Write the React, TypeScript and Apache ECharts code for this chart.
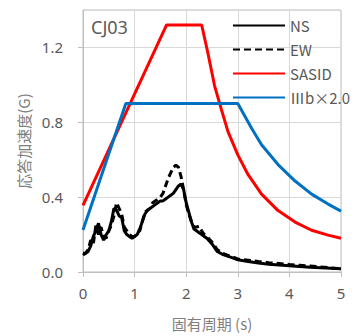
import React, { useEffect, useRef } from "react";
import * as echarts from "echarts";

const nsPeriods = [0, 0.05, 0.1, 0.15, 0.2, 0.25, 0.3, 0.35, 0.4, 0.45, 0.5, 0.55, 0.6, 0.65, 0.7, 0.75, 0.8, 0.85, 0.9, 0.95, 1.0, 1.05, 1.1, 1.15, 1.2, 1.25, 1.3, 1.35, 1.4, 1.45, 1.5, 1.55, 1.6, 1.65, 1.7, 1.75, 1.8, 1.85, 1.9, 1.95, 2.0, 2.05, 2.1, 2.15, 2.2, 2.25, 2.3, 2.35, 2.4, 2.5, 2.6, 2.7, 2.8, 2.9, 3.0, 3.2, 3.4, 3.6, 3.8, 4.0, 4.2, 4.4, 4.6, 4.8, 5.0];
const nsValues = [0.09, 0.1, 0.11, 0.14, 0.19, 0.22, 0.26, 0.2, 0.17, 0.2, 0.22, 0.27, 0.34, 0.33, 0.3, 0.29, 0.22, 0.2, 0.19, 0.18, 0.19, 0.2, 0.23, 0.27, 0.31, 0.33, 0.34, 0.35, 0.36, 0.37, 0.38, 0.38, 0.39, 0.4, 0.41, 0.42, 0.44, 0.46, 0.47, 0.44, 0.37, 0.32, 0.27, 0.23, 0.22, 0.21, 0.2, 0.19, 0.18, 0.15, 0.11, 0.095, 0.085, 0.075, 0.065, 0.056, 0.048, 0.042, 0.037, 0.033, 0.029, 0.026, 0.023, 0.02, 0.017];

const ewPeriods = nsPeriods;
const ewValues = [0.1, 0.1, 0.12, 0.17, 0.15, 0.25, 0.2, 0.24, 0.19, 0.18, 0.22, 0.25, 0.3, 0.37, 0.34, 0.31, 0.24, 0.22, 0.2, 0.19, 0.19, 0.21, 0.22, 0.27, 0.32, 0.33, 0.34, 0.37, 0.38, 0.39, 0.4, 0.42, 0.46, 0.5, 0.53, 0.56, 0.57, 0.56, 0.51, 0.44, 0.36, 0.31, 0.27, 0.24, 0.24, 0.245, 0.22, 0.2, 0.19, 0.16, 0.12, 0.1, 0.09, 0.08, 0.07, 0.063, 0.056, 0.05, 0.045, 0.04, 0.036, 0.032, 0.027, 0.022, 0.018];

const sasidPeriods = [0, 1.62, 2.3, 2.42, 2.55, 2.68, 2.81, 3.0, 3.2, 3.46, 3.78, 4.11, 4.43, 4.75, 5.0];
const sasidValues = [0.356, 1.32, 1.32, 1.17, 0.995, 0.87, 0.75, 0.626, 0.52, 0.416, 0.328, 0.267, 0.223, 0.197, 0.18];

const iiibPeriods = [0, 0.83, 3.0, 3.27, 3.46, 3.78, 4.11, 4.43, 4.75, 5.0];
const iiibValues = [0.224, 0.9, 0.9, 0.767, 0.68, 0.574, 0.486, 0.416, 0.363, 0.325];

const seriesNames = ["NS", "EW", "SASID", "Ⅲb×2.0"];
const chartLabel = "CJ03";
const xTitle = "固有周期 (s)";
const yTitle = "応答加速度(G)";

const zip = (xs: number[], ys: number[]) => xs.map((x, i) => [x, ys[i]]);

export default function App() {
  const ref = useRef<HTMLDivElement>(null);
  useEffect(() => {
    if (!ref.current) return;
    const chart = echarts.init(ref.current, null, { renderer: "svg" });
    const gray = "#595959";
    const font = "'Noto Sans', 'Noto Sans CJK JP', sans-serif";
    chart.setOption({
      animation: false,
      textStyle: { fontFamily: font },
      grid: {
        left: 83,
        right: 14,
        top: 10,
        bottom: 60,
        show: true,
        borderColor: "#bfbfbf",
        borderWidth: 1,
      },
      graphic: [
        {
          type: "text",
          left: 91,
          top: 18,
          style: { text: chartLabel, fontSize: 18, fill: gray, fontFamily: font },
        },
      ],
      legend: {
        orient: "vertical",
        left: 227,
        top: 13,
        itemWidth: 52,
        itemHeight: 14,
        itemGap: 9,
        itemStyle: { opacity: 0 },
        textStyle: { color: gray, fontSize: 15, padding: [0, 0, 0, 0], fontFamily: "'Noto Sans CJK JP', sans-serif" },
        data: seriesNames,
        backgroundColor: "rgba(255,255,255,0)",
      },
      xAxis: {
        type: "value",
        min: 0,
        max: 5,
        interval: 1,
        name: xTitle,
        nameLocation: "middle",
        nameGap: 44,
        nameTextStyle: { color: "#7f7f7f", fontSize: 15, fontFamily: "'Noto Sans CJK JP', sans-serif" },
        axisLine: { show: true, lineStyle: { color: "#bfbfbf" } },
        axisTick: { show: true, length: 5, lineStyle: { color: "#bfbfbf" } },
        axisLabel: { color: gray, fontSize: 15, margin: 13 },
        splitLine: { show: true, lineStyle: { color: "#d9d9d9" } },
      },
      yAxis: {
        type: "value",
        min: 0,
        max: 1.4,
        interval: 0.4,
        name: yTitle,
        nameLocation: "middle",
        nameGap: 49,
        nameTextStyle: { color: "#7f7f7f", fontSize: 15, fontFamily: "'Noto Sans CJK JP', sans-serif" },
        axisLine: { show: true, lineStyle: { color: "#bfbfbf" } },
        axisTick: { show: true, length: 5, lineStyle: { color: "#bfbfbf" } },
        axisLabel: {
          color: gray,
          fontSize: 15,
          margin: 20,
          showMaxLabel: false,
          formatter: (v: number) => (v > 1.3 ? "" : v.toFixed(1)),
        },
        splitLine: { show: true, lineStyle: { color: "#d9d9d9" } },
      },
      series: [
        {
          name: seriesNames[0],
          type: "line",
          symbol: "none",
          data: zip(nsPeriods, nsValues),
          lineStyle: { color: "#000000", width: 3 },
          itemStyle: { color: "#000000" },
        },
        {
          name: seriesNames[1],
          type: "line",
          symbol: "none",
          data: zip(ewPeriods, ewValues),
          lineStyle: { color: "#000000", width: 3, type: [7, 4] },
          itemStyle: { color: "#000000" },
        },
        {
          name: seriesNames[2],
          type: "line",
          symbol: "none",
          data: zip(sasidPeriods, sasidValues),
          lineStyle: { color: "#ff0000", width: 3 },
          itemStyle: { color: "#ff0000" },
        },
        {
          name: seriesNames[3],
          type: "line",
          symbol: "none",
          data: zip(iiibPeriods, iiibValues),
          lineStyle: { color: "#0070c0", width: 3 },
          itemStyle: { color: "#0070c0" },
        },
      ],
    });
    return () => chart.dispose();
  }, []);
  return (
    <div
      ref={ref}
      style={{ position: "fixed", left: 0, top: 0, width: 355, height: 336, background: "#fff" }}
    />
  );
}
